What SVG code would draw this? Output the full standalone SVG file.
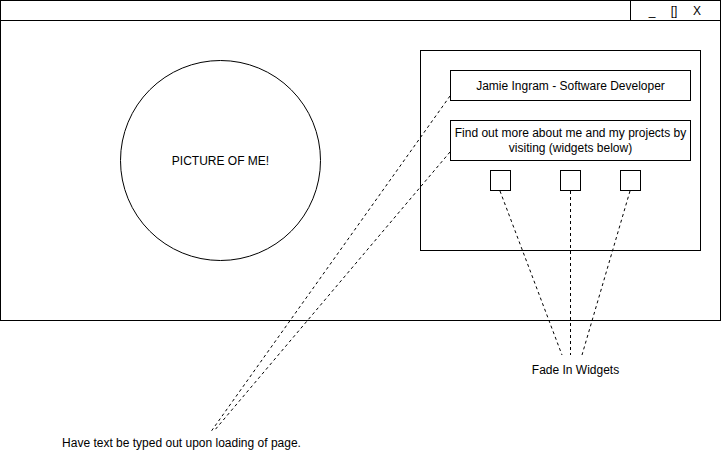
<svg xmlns="http://www.w3.org/2000/svg" width="721" height="455" viewBox="0 0 721 455">
<style>
.s{fill:#fff;stroke:#000;stroke-width:1}
.t{font-family:"Liberation Sans",Arial,sans-serif;font-size:12px;fill:#000;text-anchor:middle}
.d{fill:none;stroke:#000;stroke-width:1;stroke-dasharray:3 3}
</style>
<rect width="721" height="455" fill="#fff"/>
<g id="window">
<rect class="s" x="0.5" y="0.5" width="720" height="320"/>
<line x1="0.5" y1="20.5" x2="720.5" y2="20.5" stroke="#000"/>
<line x1="630.5" y1="0.5" x2="630.5" y2="20.5" stroke="#000"/>
<text class="t" x="652" y="15">_</text>
<text class="t" x="674" y="15">[]</text>
<text class="t" x="697" y="15">X</text>
</g>
<g id="picture">
<circle class="s" cx="220.5" cy="160.5" r="100"/>
<text class="t" x="220.5" y="164.5">PICTURE OF ME!</text>
</g>
<g id="panel">
<rect class="s" x="420.5" y="50.5" width="280" height="200"/>
</g>
<g id="title">
<rect class="s" x="450.5" y="70.5" width="240" height="30"/>
<text class="t" x="570.5" y="90">Jamie Ingram - Software Developer</text>
</g>
<g id="info">
<rect class="s" x="450.5" y="120.5" width="240" height="40"/>
<text class="t" x="570.5" y="137">Find out more about me and my projects by</text>
<text class="t" x="570.5" y="152">visiting (widgets below)</text>
</g>
<g id="widget1"><rect class="s" x="490.5" y="170.5" width="20" height="20"/></g>
<g id="widget2"><rect class="s" x="560.5" y="170.5" width="20" height="20"/></g>
<g id="widget3"><rect class="s" x="620.5" y="170.5" width="20" height="20"/></g>
<g id="connectors">
<line class="d" x1="450" y1="96" x2="210" y2="433"/>
<line class="d" x1="450" y1="152" x2="214" y2="431"/>
<line class="d" x1="500" y1="191" x2="562" y2="355"/>
<line class="d" x1="570.5" y1="191" x2="570.5" y2="355"/>
<line class="d" x1="630" y1="191" x2="582" y2="355"/>
</g>
<g id="label-fade"><text class="t" x="575.5" y="374">Fade In Widgets</text></g>
<g id="label-typed"><text class="t" x="181.5" y="447">Have text be typed out upon loading of page.</text></g>
</svg>
